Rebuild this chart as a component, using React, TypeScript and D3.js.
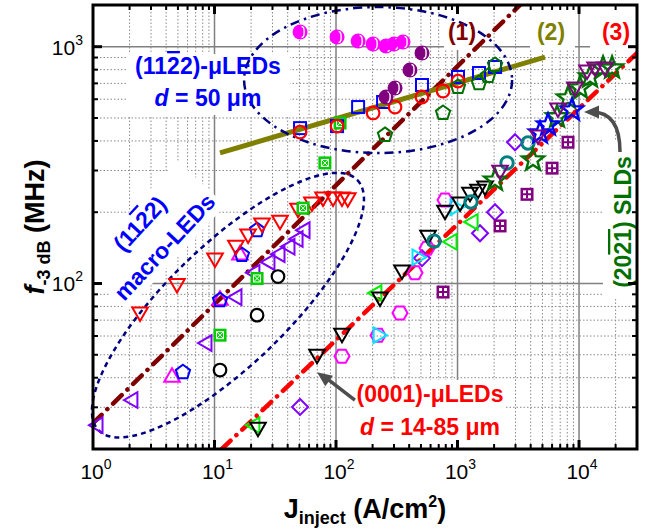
import React from "react";
import * as d3 from "d3";

type Pt = [number, number];

const X_DOMAIN: [number, number] = [1, 30000];
const Y_DOMAIN: [number, number] = [20, 1500];
const X_LABEL_EXP = [0, 1, 2, 3, 4];
const Y_LABEL_EXP = [2, 3];

// ---- (11-22) micro-LEDs, d = 50 um ----
const magentaHalfCircles: Pt[] = [[50.6, 1154], [102, 1099], [152, 1057], [202, 1026], [258, 1007], [300, 1026], [356, 1047]];
const purpleHalfCircles: Pt[] = [[258, 613], [306, 669], [406, 797], [510, 940]];
const blueSquares: Pt[] = [[50.6, 453], [102, 462], [152, 556], [244, 584], [510, 689], [1009, 745], [1503, 774], [2036, 821]];
const redCircles: Pt[] = [[50.6, 436], [102, 462], [202, 525], [306, 556], [510, 613], [760, 650], [1009, 716]];
const darkGreenPentagons: Pt[] = [[253, 424], [760, 525], [1009, 676], [1503, 702], [1782, 752], [2036, 837]];
const greenXSquares: Pt[] = [[11.1, 60.5], [22.4, 105], [53.5, 208], [81, 323], [108, 476]];

// ---- (11-22) macro-LEDs ----
const redDownTri: Pt[] = [[2.44, 75.7], [4.91, 100], [10.1, 128], [15.0, 145], [18.9, 162], [24.6, 180], [34.6, 185], [48.7, 208], [63.4, 221], [78.2, 232], [94.5, 232], [112, 232], [125, 230]];
const violetLeftTri: Pt[] = [[1.1, 25.2], [2.13, 32.2], [8.67, 56], [15.3, 87.6], [21.5, 111], [28.6, 123], [34.6, 133], [41.8, 143], [48.7, 154], [55.6, 168]];
const magentaUpTri: Pt[] = [[4.47, 40.2], [11.1, 85], [16.2, 132]];
const bluePentagons: Pt[] = [[5.5, 42.2], [11.1, 85], [16.8, 132], [22.4, 168]];
const blackCircles: Pt[] = [[11.1, 43.1], [22.4, 73.5], [33.3, 107]];

// ---- (0001) micro-LEDs, d = 14-85 um ----
const blackDownTri: Pt[] = [[22.8, 24.7], [69.8, 50.3], [112, 61.7], [230, 87.6], [349, 114], [572, 160], [789, 204], [1049, 221], [1267, 243], [1474, 250], [1684, 258]];
const magentaHexagons: Pt[] = [[112, 49.3], [222, 60.5], [336, 75], [447, 111], [561, 141], [789, 225]];
const cyanRightTri: Pt[] = [[222, 60.5], [464, 129], [953, 210]];
const tealCircles: Pt[] = [[641, 151], [1291, 221], [2556, 323], [3802, 392]];
const limeLeftTri: Pt[] = [[21.5, 25.2], [217, 91.1], [901, 150], [1343, 182]];
const violetDiamonds: Pt[] = [[50.6, 30.1], [510, 128], [1531, 163], [2036, 200], [2973, 395]];
const purplePlusSquares: Pt[] = [[760, 92], [2239, 175], [3733, 238], [5998, 307], [8118, 395]];
const blueStars: Pt[] = [[4775, 432], [5557, 467], [8750, 540]];

// ---- (20-21) SLDs ----
const greenStars: Pt[] = [[2036, 273], [4180, 332], [6591, 505], [8118, 607], [10190, 669], [12330, 745], [15770, 813], [18700, 813]];
const purpleDownTri: Pt[] = [[2239, 301], [4603, 424], [6714, 551], [9268, 676], [11640, 797], [13550, 821], [16370, 821]];

// ---- guide lines (endpoints) ----
const line1: Pt[] = [[1, 25.7], [3268, 1500]];
const line2: Pt[] = [[11.1, 356], [5250, 904]];
const line3: Pt[] = [[11.5, 20], [30000, 940]];

// ---- annotation anchors (data coordinates) ----
const topEllipseCenter: Pt = [222, 723];
const leftEllipseCenter: Pt = [12.9, 81];
const arrow0001: Pt[] = [[143, 32.2], [69.8, 42.2]];
const arrowSLD: Pt[] = [[21750, 359], [21750, 530], [10990, 530]];

const FONT = "'Liberation Sans', Arial, Helvetica, sans-serif";

function regular(n: number, start: number, R: number): Pt[] {
  return d3.range(n).map((i) => {
    const a = start + (i * 2 * Math.PI) / n;
    return [R * Math.cos(a), R * Math.sin(a)] as Pt;
  });
}
function starPts(R: number, r: number): Pt[] {
  return d3.range(10).map((i) => {
    const a = -Math.PI / 2 + (i * Math.PI) / 5;
    const rr = i % 2 === 0 ? R : r;
    return [rr * Math.cos(a), rr * Math.sin(a)] as Pt;
  });
}
function ptsStr(pts: Pt[], cx: number, cy: number) {
  return pts.map((p) => `${(cx + p[0]).toFixed(2)},${(cy + p[1]).toFixed(2)}`).join(" ");
}

function Marker({ shape, cx, cy, color }: { shape: string; cx: number; cy: number; color: string }) {
  const sw = 2;
  switch (shape) {
    case "circle":
      return <circle cx={cx} cy={cy} r={6.3} fill="none" stroke={color} strokeWidth={2.2} />;
    case "thickCircle":
      return <circle cx={cx} cy={cy} r={6.2} fill="none" stroke={color} strokeWidth={3} />;
    case "half":
      return (
        <g>
          <circle cx={cx} cy={cy} r={7.5} fill={color} />
          <path d={`M${cx + 1.5},${cy - 5.5} A2.6 5.5 0 0 1 ${cx + 1.5},${cy + 5.5}`} fill="none" stroke="#fff" strokeWidth={1.4} />
        </g>
      );
    case "square":
      return <rect x={cx - 6} y={cy - 6} width={12} height={12} fill="none" stroke={color} strokeWidth={sw} />;
    case "xsquare":
      return (
        <g>
          <rect x={cx - 6.5} y={cy - 6.5} width={13} height={13} fill={color} />
          <rect x={cx - 3.5} y={cy - 3.5} width={7} height={7} fill="none" stroke="#fff" strokeWidth={1} />
          <path d={`M${cx - 3.5},${cy - 3.5}L${cx + 3.5},${cy + 3.5}M${cx + 3.5},${cy - 3.5}L${cx - 3.5},${cy + 3.5}`} stroke="#fff" strokeWidth={1} />
        </g>
      );
    case "plussquare":
      return (
        <g>
          <rect x={cx - 6.5} y={cy - 6.5} width={13} height={13} fill={color} />
          <rect x={cx - 4} y={cy - 4} width={8} height={8} fill="#fff" />
          <path d={`M${cx},${cy - 4}V${cy + 4}M${cx - 4},${cy}H${cx + 4}`} stroke={color} strokeWidth={2} />
        </g>
      );
    default: {
      let pts: Pt[] = [];
      if (shape === "triDown") pts = regular(3, Math.PI / 2, 9);
      else if (shape === "triUp") pts = regular(3, -Math.PI / 2, 9);
      else if (shape === "triLeft") pts = regular(3, Math.PI, 9);
      else if (shape === "triRight") pts = regular(3, 0, 9);
      else if (shape === "pentagon") pts = regular(5, -Math.PI / 2, 7.5);
      else if (shape === "hexagon") pts = regular(6, 0, 7.5);
      else if (shape === "diamond") pts = regular(4, -Math.PI / 2, 8);
      else if (shape === "star") pts = starPts(11.5, 4.8);
      return <polygon points={ptsStr(pts, cx, cy)} fill="none" stroke={color} strokeWidth={shape === "star" ? 2.4 : sw} strokeLinejoin="miter" />;
    }
  }
}

const SERIES: { data: Pt[]; shape: string; color: string }[] = [
  { data: violetLeftTri, shape: "triLeft", color: "#8000ff" },
  { data: magentaUpTri, shape: "triUp", color: "#ff00ff" },
  { data: bluePentagons, shape: "pentagon", color: "#0000ff" },
  { data: blackCircles, shape: "circle", color: "#000000" },
  { data: redDownTri, shape: "triDown", color: "#ff0000" },
  { data: greenXSquares, shape: "xsquare", color: "#00cc00" },
  { data: blueSquares, shape: "square", color: "#0000ff" },
  { data: redCircles, shape: "circle", color: "#ff0000" },
  { data: darkGreenPentagons, shape: "pentagon", color: "#007000" },
  { data: magentaHalfCircles, shape: "half", color: "#ff00ff" },
  { data: purpleHalfCircles, shape: "half", color: "#800080" },
  { data: violetDiamonds, shape: "diamond", color: "#8000ff" },
  { data: purplePlusSquares, shape: "plussquare", color: "#800080" },
  { data: magentaHexagons, shape: "hexagon", color: "#ff00ff" },
  { data: cyanRightTri, shape: "triRight", color: "#00e5ff" },
  { data: limeLeftTri, shape: "triLeft", color: "#00ee00" },
  { data: blackDownTri, shape: "triDown", color: "#000000" },
  { data: tealCircles, shape: "thickCircle", color: "#008080" },
  { data: greenStars, shape: "star", color: "#007000" },
  { data: blueStars, shape: "star", color: "#0000ff" },
  { data: purpleDownTri, shape: "triDown", color: "#800080" },
];

function Pow10({ x, y, e, anchor }: { x: number; y: number; e: number; anchor: "middle" | "end" }) {
  return (
    <text x={x} y={y} textAnchor={anchor} fontFamily={FONT} fontSize={21} fill="#000">
      10<tspan fontSize={14} dy={-10}>{e}</tspan>
    </text>
  );
}

function arrowHead(tip: [number, number], from: [number, number], len: number, half: number, color: string) {
  const dx = tip[0] - from[0];
  const dy = tip[1] - from[1];
  const d = Math.hypot(dx, dy);
  const ux = dx / d, uy = dy / d;
  const bx = tip[0] - ux * len, by = tip[1] - uy * len;
  const p1 = [bx - uy * half, by + ux * half];
  const p2 = [bx + uy * half, by - ux * half];
  return <polygon points={`${tip[0]},${tip[1]} ${p1[0]},${p1[1]} ${p2[0]},${p2[1]}`} fill={color} />;
}

export default function App() {
  const L = 93, R = 637, T = 5, B = 449;
  const x = d3.scaleLog().domain(X_DOMAIN).range([L, R]);
  const y = d3.scaleLog().domain(Y_DOMAIN).range([B, T]);

  const xTicks: { v: number; major: boolean }[] = [];
  for (let e = 0; e <= 5; e++)
    for (let k = 1; k <= 9; k++) {
      const v = k * Math.pow(10, e);
      if (v >= X_DOMAIN[0] && v <= X_DOMAIN[1]) xTicks.push({ v, major: k === 1 });
    }
  const yTicks: { v: number; major: boolean }[] = [];
  for (let e = 1; e <= 3; e++)
    for (let k = 1; k <= 9; k++) {
      const v = k * Math.pow(10, e);
      if (v >= Y_DOMAIN[0] && v <= Y_DOMAIN[1]) yTicks.push({ v, major: k === 1 });
    }

  const line = d3.line<Pt>().x((d) => x(d[0])).y((d) => y(d[1]));

  const tec = [x(topEllipseCenter[0]), y(topEllipseCenter[1])];
  const lec = [x(leftEllipseCenter[0]), y(leftEllipseCenter[1])];

  const a1 = arrow0001.map((p) => [x(p[0]), y(p[1])] as [number, number]);
  const a2 = arrowSLD.map((p) => [x(p[0]), y(p[1])] as [number, number]);

  const bold = { fontFamily: FONT, fontWeight: 700 as const };

  return (
    <svg width={653} height={529} style={{ position: "absolute", left: 0, top: 0, background: "#fff" }}>
      <defs>
        <clipPath id="plot">
          <rect x={L} y={T} width={R - L} height={B - T} />
        </clipPath>
      </defs>
      <rect x={0} y={0} width={653} height={529} fill="#fff" />
      {/* grid */}
      <g>
        {xTicks.filter((t) => t.v > X_DOMAIN[0] && t.v < X_DOMAIN[1]).map((t, i) => (
          <line key={"gx" + i} x1={x(t.v)} x2={x(t.v)} y1={T} y2={B} stroke={t.major ? "#808080" : "#8a8a8a"} strokeWidth={t.major ? 1.5 : 1} strokeDasharray={t.major ? undefined : "1.5,2"} />
        ))}
        {yTicks.filter((t) => t.v > Y_DOMAIN[0] && t.v < Y_DOMAIN[1]).map((t, i) => (
          <line key={"gy" + i} y1={y(t.v)} y2={y(t.v)} x1={L} x2={R} stroke={t.major ? "#808080" : "#8a8a8a"} strokeWidth={t.major ? 1.5 : 1} strokeDasharray={t.major ? undefined : "1.5,2"} />
        ))}
      </g>
      {/* white label backgrounds */}
      <g fill="#fff">
        <rect x={126} y={54} width={164} height={61} />
        <rect x={354} y={380} width={152} height={66} />
        <rect x={444} y={12} width={37} height={38} />
        <rect x={530} y={12} width={45} height={38} />
        <rect x={590} y={12} width={47} height={38} />
        <rect x={603} y={140} width={34} height={158} />
        <rect transform="translate(153,236) rotate(-47)" x={-72} y={-34} width={144} height={66} />
      </g>
      {/* fit lines */}
      <g clipPath="url(#plot)" fill="none">
        <path d={line(line1) || ""} stroke="#800000" strokeWidth={4.5} strokeDasharray="12,8,0.1,8" strokeLinecap="round" />
        <path d={line(line3) || ""} stroke="#ff0000" strokeWidth={4.5} strokeDasharray="12,8,0.1,8" strokeLinecap="round" />
        <path d={line(line2) || ""} stroke="#808000" strokeWidth={5} />
      </g>
      {/* ellipses */}
      <g fill="none" stroke="#000080" strokeWidth={2.5}>
        <ellipse cx={tec[0]} cy={tec[1]} rx={134} ry={73} strokeDasharray="9,5,2.5,5" />
        <ellipse transform={`translate(${lec[0]},${lec[1]}) rotate(-44)`} cx={0} cy={0} rx={180} ry={60} strokeDasharray="5,4" />
      </g>
      {/* markers */}
      <g>
        {SERIES.map((s, si) =>
          s.data.map((d, i) => <Marker key={si + "-" + i} shape={s.shape} cx={x(d[0])} cy={y(d[1])} color={s.color} />)
        )}
      </g>
      {/* arrows */}
      <g stroke="#4d4d4d" strokeWidth={3.5} fill="none">
        <line x1={a1[0][0]} y1={a1[0][1]} x2={a1[1][0] + 8} y2={a1[1][1] + 5} />
        <path d={`M${a2[0][0]},${a2[0][1]} Q${a2[1][0]},${a2[1][1]} ${a2[2][0] + 8},${a2[2][1]}`} />
      </g>
      {arrowHead(a1[1], a1[0], 15, 6.5, "#4d4d4d")}
      {arrowHead(a2[2], a2[1], 15, 6.5, "#4d4d4d")}
      {/* labels */}
      <text x={208} y={74} textAnchor="middle" fontSize={23} fill="#0000ff" {...bold}>
        (11<tspan style={{ textDecoration: "overline" }}>2</tspan>2)-μLEDs
      </text>
      <text x={208} y={106} textAnchor="middle" fontSize={23} fill="#0000ff" {...bold}>
        <tspan fontStyle="italic">d</tspan> = 50 μm
      </text>
      <g transform="translate(153,236) rotate(-47)">
        <text x={0} y={-10} textAnchor="middle" fontSize={23} fill="#0000ff" {...bold}>
          (11<tspan style={{ textDecoration: "overline" }}>2</tspan>2)
        </text>
        <text x={0} y={24} textAnchor="middle" fontSize={23} fill="#0000ff" {...bold}>
          macro-LEDs
        </text>
      </g>
      <text x={430} y={402} textAnchor="middle" fontSize={23} fill="#ff0000" {...bold}>
        (0001)-μLEDs
      </text>
      <text x={430} y={435} textAnchor="middle" fontSize={23} fill="#ff0000" {...bold}>
        <tspan fontStyle="italic">d</tspan> = 14-85 μm
      </text>
      <text x={462} y={40} textAnchor="middle" fontSize={23} fill="#800000" {...bold}>(1)</text>
      <text x={551} y={40} textAnchor="middle" fontSize={23} fill="#808000" {...bold}>(2)</text>
      <text x={616} y={40} textAnchor="middle" fontSize={23} fill="#ff0000" {...bold}>(3)</text>
      <text transform="translate(631,222) rotate(-90)" textAnchor="middle" fontSize={23} fill="#007000" {...bold}>
        (20<tspan style={{ textDecoration: "overline" }}>21</tspan>) SLDs
      </text>
      {/* frame & ticks */}
      <g stroke="#000" strokeLinecap="butt">
        {xTicks.filter((t) => t.v > X_DOMAIN[0] && t.v < X_DOMAIN[1]).map((t, i) => {
          const len = t.major ? 9 : 5;
          const w = t.major ? 3 : 2;
          return (
            <g key={"tx" + i}>
              <line x1={x(t.v)} x2={x(t.v)} y1={B} y2={B - len} strokeWidth={w} />
              <line x1={x(t.v)} x2={x(t.v)} y1={T} y2={T + len} strokeWidth={w} />
            </g>
          );
        })}
        {yTicks.filter((t) => t.v > Y_DOMAIN[0] && t.v < Y_DOMAIN[1]).map((t, i) => {
          const len = t.major ? 9 : 5;
          const w = t.major ? 3 : 2;
          return (
            <g key={"ty" + i}>
              <line y1={y(t.v)} y2={y(t.v)} x1={L} x2={L + len} strokeWidth={w} />
              <line y1={y(t.v)} y2={y(t.v)} x1={R} x2={R - len} strokeWidth={w} />
            </g>
          );
        })}
        <rect x={L} y={T} width={R - L} height={B - T} fill="none" strokeWidth={3} />
      </g>
      {/* tick labels */}
      {X_LABEL_EXP.map((e) => (
        <Pow10 key={"xl" + e} x={x(Math.pow(10, e)) + 3} y={479} e={e} anchor="middle" />
      ))}
      {Y_LABEL_EXP.map((e) => (
        <Pow10 key={"yl" + e} x={83} y={y(Math.pow(10, e)) + 8} e={e} anchor="end" />
      ))}
      {/* axis titles */}
      <text x={365} y={518} textAnchor="middle" fontSize={27} {...bold}>
        J<tspan fontSize={18} dy={6}>inject</tspan>
        <tspan dy={-6}> (A/cm</tspan>
        <tspan fontSize={16} dy={-11}>2</tspan>
        <tspan dy={11}>)</tspan>
      </text>
      <text transform="translate(44,227) rotate(-90)" textAnchor="middle" fontSize={27} {...bold}>
        <tspan fontStyle="italic">f</tspan>
        <tspan fontSize={18} dy={6}>-3 dB</tspan>
        <tspan dy={-6}> (MHz)</tspan>
      </text>
    </svg>
  );
}
